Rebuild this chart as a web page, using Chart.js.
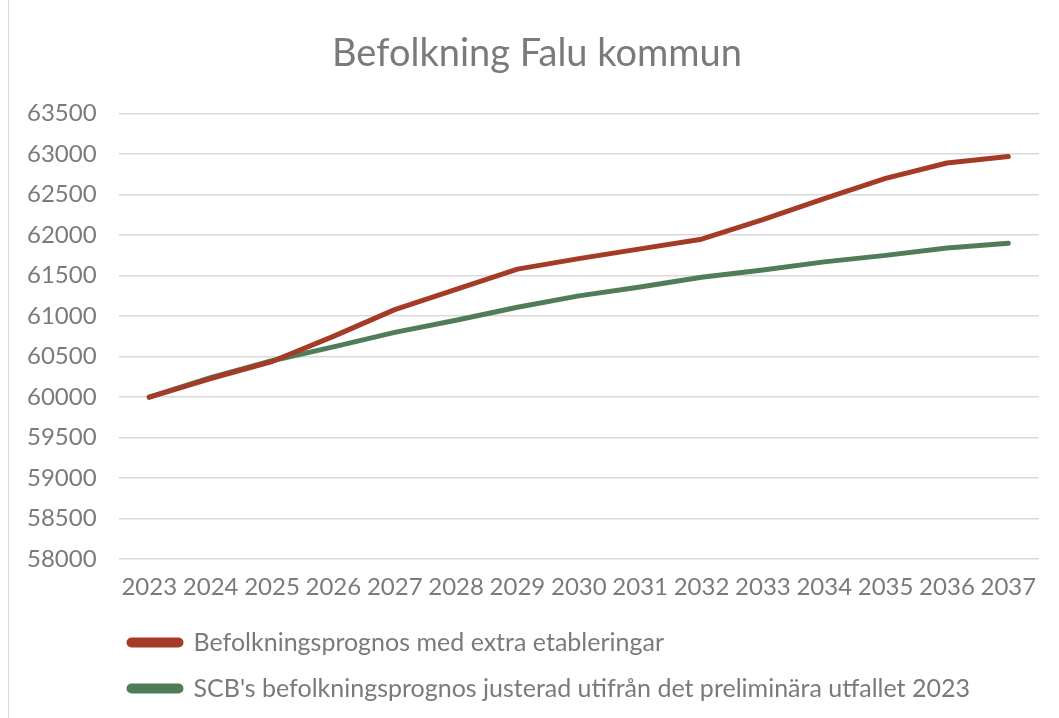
<!DOCTYPE html>
<html>
<head>
<meta charset="utf-8">
<script src="https://cdn.jsdelivr.net/npm/chart.js@4"></script>
<style>
    html, body { margin: 0; padding: 0; background: #fff; }
    #wrap { position: relative; width: 1059px; height: 718px; }
    #frame { position: absolute; left: 8px; top: 0; width: 0; height: 718px; border-left: 1.5px solid #d9d9d9; }
</style>
</head>
<body>
<div id="wrap">
    <div id="frame"></div>
    <canvas id="chart" width="1059" height="718"></canvas>
</div>
<script>
// Chart data
const years = ['2023', '2024', '2025', '2026', '2027', '2028', '2029', '2030', '2031', '2032', '2033', '2034', '2035', '2036', '2037'];
const extraEtableringar = [60000, 60230, 60440, 60750, 61080, 61330, 61580, 61710, 61830, 61950, 62190, 62450, 62700, 62890, 62970];
const scbJusterad = [60000, 60240, 60450, 60620, 60800, 60950, 61110, 61250, 61360, 61480, 61570, 61670, 61750, 61840, 61900];
const seriesNames = [
    'Befolkningsprognos med extra etableringar',
    "SCB's befolkningsprognos justerad utifrån det preliminära utfallet 2023"
];
const yMin = 58000;
const yMax = 63500;
const yStep = 500;

const textColor = '#7a7a7a';
const fontFamily = 'Lato, "Noto Sans", sans-serif';

// Move legend and title so they line up like the original
const boxShift = {
    id: 'boxShift',
    afterLayout(chart) {
        const lg = chart.legend;
        if (lg) {
            const h = lg.bottom - lg.top;
            lg.left = 108;
            lg.top = 609;
            lg.bottom = 609 + h;
        }
        const tb = chart.titleBlock;
        if (tb) {
            tb.left += 15;
            tb.right += 15;
            tb.top += 2;
            tb.bottom += 2;
        }
    }
};

new Chart(document.getElementById('chart'), {
    type: 'line',
    data: {
        labels: years,
        datasets: [
            {
                label: seriesNames[0],
                data: extraEtableringar,
                borderColor: '#a53b27',
                backgroundColor: '#a53b27',
                borderWidth: 5,
                pointRadius: 0,
                tension: 0,
                borderCapStyle: 'round',
                borderJoinStyle: 'round'
            },
            {
                label: seriesNames[1],
                data: scbJusterad,
                borderColor: '#4f7d5a',
                backgroundColor: '#4f7d5a',
                borderWidth: 5,
                pointRadius: 0,
                tension: 0,
                borderCapStyle: 'round',
                borderJoinStyle: 'round'
            }
        ]
    },
    options: {
        responsive: false,
        animation: false,
        layout: {
            padding: { left: 5, right: 20, top: 29, bottom: 0 }
        },
        scales: {
            x: {
                offset: true,
                grid: { display: false, drawTicks: false },
                border: { display: false },
                ticks: {
                    color: textColor,
                    font: { family: fontFamily, size: 24 },
                    padding: 14,
                    maxRotation: 0,
                    autoSkip: false
                }
            },
            y: {
                min: yMin,
                max: yMax,
                border: { display: false },
                grid: { color: '#d9d9d9', lineWidth: 1.5, drawTicks: false },
                ticks: {
                    stepSize: yStep,
                    color: textColor,
                    font: { family: fontFamily, size: 24 },
                    padding: 22,
                    callback: function(value) { return String(value); }
                }
            }
        },
        plugins: {
            title: {
                display: true,
                text: 'Befolkning Falu kommun',
                color: textColor,
                font: { family: fontFamily, size: 38, weight: 'normal' },
                padding: { top: 0, bottom: 39 }
            },
            legend: {
                position: 'bottom',
                align: 'start',
                labels: {
                    color: textColor,
                    font: { family: fontFamily, size: 25 },
                    boxWidth: 52,
                    boxHeight: 5,
                    padding: 21,
                    useBorderRadius: true,
                    borderRadius: 2.5
                }
            },
            tooltip: { enabled: false }
        }
    },
    plugins: [boxShift]
});
</script>
</body>
</html>
